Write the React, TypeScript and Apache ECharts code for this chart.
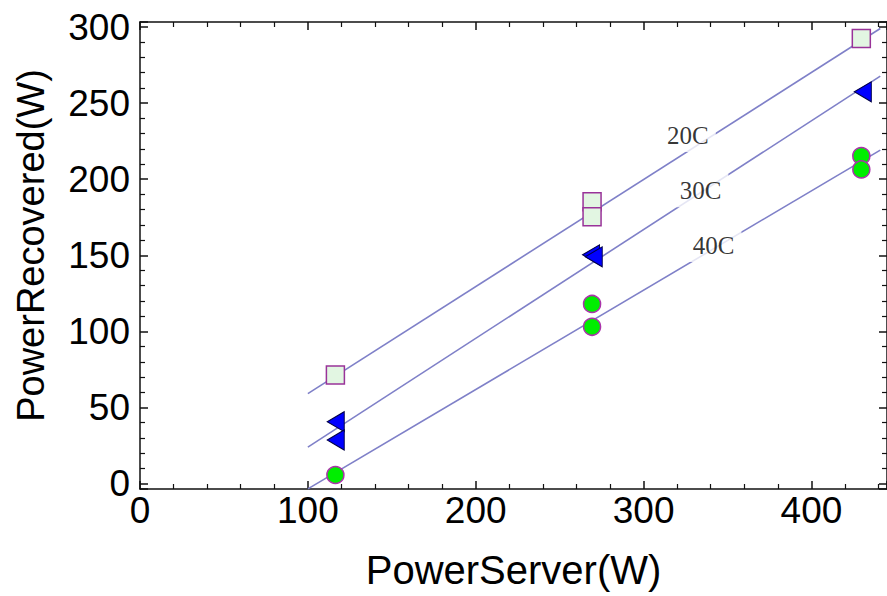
import React, { useEffect, useRef } from "react";
import * as echarts from "echarts";

// Measured points (PowerServer W, PowerRecovered W)
const points20C: number[][] = [
  [116.4, 71.3],
  [269.3, 185.2],
  [269.3, 175.3],
  [429.7, 292.5],
];
const points30C: number[][] = [
  [116.6, 40.6],
  [116.6, 28.6],
  [268.7, 150.3],
  [270.3, 149.0],
  [430.6, 257.4],
];
const points40C: number[][] = [
  [116.4, 5.6],
  [269.3, 118.0],
  [269.3, 103.0],
  [429.7, 215.2],
  [429.7, 206.4],
];

// Fitted lines: endpoints
const fit20C: number[][] = [
  [100, 59.1],
  [441, 299.0],
];
const fit30C: number[][] = [
  [100, 23.9],
  [441, 267.7],
];
const fit40C: number[][] = [
  [100, -3.5],
  [441, 219.1],
];

// Inline line labels
const lineLabelNames = ["20C", "30C", "40C"];
const lineLabelX = [327, 334.5, 342.3];
const lineLabelY = [229, 192.8, 156.7];

const xTitle = "PowerServer(W)";
const yTitle = "PowerRecovered(W)";

const AXIS_COLOR = "#111";
const LINE_COLOR = "#7f80c8";

export default function App() {
  const ref = useRef<HTMLDivElement>(null);

  useEffect(() => {
    if (!ref.current) return;
    const chart = echarts.init(ref.current, undefined, { renderer: "svg" });

    const tickCommon = {
      axisLine: { show: true, onZero: false, lineStyle: { color: AXIS_COLOR, width: 1.5 } },
      axisTick: { show: true, inside: true, length: 8, lineStyle: { color: AXIS_COLOR, width: 1.5 } },
      minorTick: { show: true, splitNumber: 5, length: 5, lineStyle: { color: AXIS_COLOR, width: 1.2 } },
      splitLine: { show: false },
      minorSplitLine: { show: false },
    };

    const labelFont = {
      fontSize: 37,
      fontFamily: "Liberation Sans, Arial, sans-serif",
      color: "#000",
    };

    const option: any = {
      animation: false,
      backgroundColor: "#fff",
      grid: { left: 140, top: 22, right: -1, bottom: 107, containLabel: false },
      xAxis: [
        {
          type: "value",
          min: 0,
          max: 445,
          interval: 100,
          position: "bottom",
          ...tickCommon,
          axisLabel: { ...labelFont, margin: 3, showMaxLabel: false },
          name: xTitle,
          nameLocation: "middle",
          nameGap: 61,
          nameTextStyle: { fontSize: 40, fontFamily: "Liberation Sans, Arial, sans-serif", color: "#000" },
        },
        {
          type: "value",
          min: 0,
          max: 445,
          interval: 100,
          position: "top",
          ...tickCommon,
          axisLabel: { show: false },
        },
      ],
      yAxis: [
        {
          type: "value",
          min: -3.6,
          max: 303.3,
          splitNumber: 6,
          position: "left",
          ...tickCommon,
          axisLabel: { ...labelFont, margin: 10, showMinLabel: false, showMaxLabel: false },
          name: yTitle,
          nameLocation: "middle",
          nameGap: 90,
          nameTextStyle: {
            fontSize: 38,
            fontFamily: "Liberation Sans, Arial, sans-serif",
            color: "#000",
            padding: [0, 0, 0, 20],
          },
        },
        {
          type: "value",
          min: -3.6,
          max: 303.3,
          splitNumber: 6,
          position: "right",
          ...tickCommon,
          axisLabel: { show: false },
        },
      ],
      series: [
        ...[fit20C, fit30C, fit40C].map((d) => ({
          type: "line",
          data: d,
          xAxisIndex: 0,
          yAxisIndex: 0,
          symbol: "none",
          z: 1,
          lineStyle: { color: LINE_COLOR, width: 1.6 },
          silent: true,
        })),
        {
          type: "scatter",
          xAxisIndex: 0,
          yAxisIndex: 0,
          z: 3,
          symbol: "rect",
          symbolSize: 1,
          itemStyle: { color: "rgba(255,255,255,0)" },
          data: lineLabelNames.map((n, i) => ({ name: n, value: [lineLabelX[i], lineLabelY[i]] })),
          label: {
            show: true,
            position: "inside",
            formatter: (p: any) => p.name,
            fontSize: 25,
            fontFamily: "Liberation Serif, Times New Roman, serif",
            color: "#000",
            backgroundColor: "#fff",
            padding: [3, 7, 6, 5],
          },
        },
        {
          type: "scatter",
          name: "20C",
          data: points20C,
          z: 5,
          symbol: "rect",
          symbolSize: 18,
          itemStyle: { color: "#e2f6e2", borderColor: "#993399", borderWidth: 1.5, opacity: 1 },
        },
        {
          type: "scatter",
          name: "30C",
          data: points30C,
          z: 5,
          symbol: "triangle",
          symbolSize: [20, 17],
          symbolRotate: 90,
          itemStyle: { color: "#0000ff", borderColor: "#000044", borderWidth: 1, opacity: 1 },
        },
        {
          type: "scatter",
          name: "40C",
          data: points40C,
          z: 5,
          symbol: "circle",
          symbolSize: 17,
          itemStyle: { color: "#00ee00", borderColor: "#aa33aa", borderWidth: 1.5, opacity: 1 },
        },
      ],
    };

    chart.setOption(option);
    return () => chart.dispose();
  }, []);

  return (
    <div
      ref={ref}
      style={{ position: "fixed", left: 0, top: 0, width: 887, height: 596, background: "#fff" }}
    />
  );
}
